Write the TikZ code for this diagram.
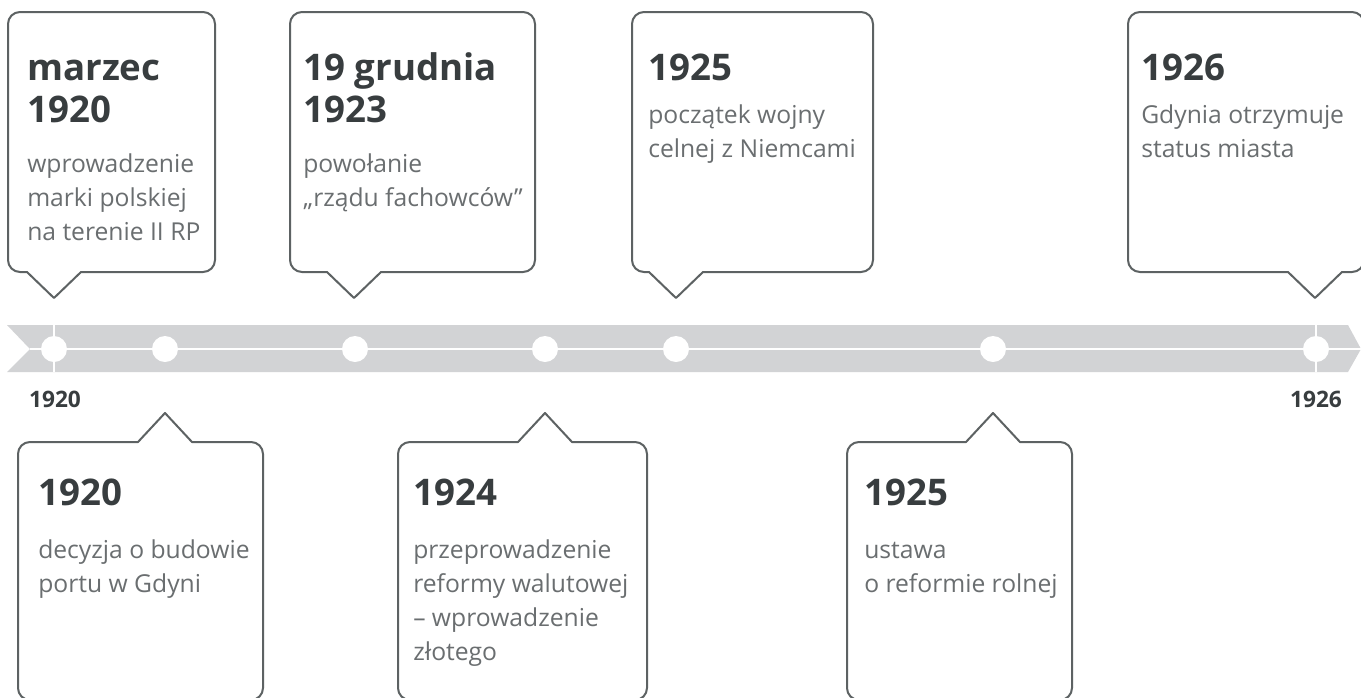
\documentclass[tikz,border=0pt]{standalone}
\usepackage{fontspec}
\setmainfont{Open Sans}
\usepackage{xcolor}
\usepackage{tikz}
\usetikzlibrary{positioning}
\definecolor{boxline}{HTML}{5D6263}
\definecolor{headtext}{HTML}{383D3F}
\definecolor{bodytext}{HTML}{6A6E70}
\definecolor{bargray}{HTML}{D2D3D5}

\begin{document}
\begin{tikzpicture}[x=0.75pt, y=-0.75pt,
  callout/.style={draw=boxline, line width=1.5pt, line join=round},
  head/.style={anchor=base west, inner sep=0, align=left, text=headtext, font=\fontsize{27.5}{31.5}\selectfont\bfseries},
  body/.style={anchor=base west, inner sep=0, align=left, text=bodytext, font=\fontsize{18.5}{25.5}\selectfont},
  dot/.style={circle, fill=white, inner sep=0, minimum size=19.5pt},
  year/.style={anchor=base, inner sep=0, text=headtext, font=\fontsize{17}{20}\selectfont\bfseries}]
\useasboundingbox (0,0) rectangle (1361,697);
\clip (0,0) rectangle (1361,697);
\fill[white] (0,0) rectangle (1361,697);

\fill[bargray] (7,325) -- (1348,325) -- (1361,349) -- (1348,372) -- (7,372) -- (30,349) -- cycle;
\draw[white, line width=2.2pt] (30,349) -- (1361,349);
\draw[white, line width=2.2pt] (54,325) -- (54,372);
\draw[white, line width=2.2pt] (1316,325) -- (1316,372);

\node(d1)[dot] at (54,349) {};
\node(d2)[dot] at (165,349) {};
\node(d3)[dot] at (355,349) {};
\node(d4)[dot] at (545,349) {};
\node(d5)[dot] at (676,349) {};
\node(d6)[dot] at (993,349) {};
\node(d7)[dot] at (1316,349) {};

\node(y1920)[year] at (55,407) {1920};
\node(y1926)[year] at (1316,407) {1926};

% upper callouts
\draw[callout] (110,12) [rounded corners=9pt] -- (215,12) -- (215,272) [sharp corners] -- (81,272) -- (54,298) -- (27,272) [rounded corners=9pt] -- (8,272) -- (8,12) -- cycle;
\draw[callout] (410,12) [rounded corners=9pt] -- (535,12) -- (535,272) [sharp corners] -- (381,272) -- (354,298) -- (327,272) [rounded corners=9pt] -- (290,272) -- (290,12) -- cycle;
\draw[callout] (750,12) [rounded corners=9pt] -- (873,12) -- (873,272) [sharp corners] -- (703,272) -- (676,298) -- (649,272) [rounded corners=9pt] -- (632,272) -- (632,12) -- cycle;
\draw[callout] (1250,12) [rounded corners=9pt] -- (1364,12) -- (1364,272) [sharp corners] -- (1342,272) -- (1315,298) -- (1288,272) [rounded corners=9pt] -- (1128,272) -- (1128,12) -- cycle;

% lower callouts
\draw[callout] (18,700) [rounded corners=9pt] -- (18,442) [sharp corners] -- (138,442) -- (165,413) -- (192,442) [rounded corners=9pt] -- (263,442) -- (263,700) -- cycle;
\draw[callout] (398,700) [rounded corners=9pt] -- (398,442) [sharp corners] -- (518,442) -- (545,413) -- (572,442) [rounded corners=9pt] -- (647,442) -- (647,700) -- cycle;
\draw[callout] (847,700) [rounded corners=9pt] -- (847,442) [sharp corners] -- (966,442) -- (993,413) -- (1020,442) [rounded corners=9pt] -- (1072,442) -- (1072,700) -- cycle;

\node(h1)[head] at (27,122) {marzec\\1920};
\node(t1)[body] at (27,240) {wprowadzenie\\marki polskiej\\na terenie II RP};
\node(h2)[head] at (303,122) {19 grudnia\\1923};
\node(t2)[body] at (303,206) {powołanie\\„rządu fachowców”};
\node(h3)[head] at (648,80) {1925};
\node(t3)[body] at (648,157) {początek wojny\\celnej z Niemcami};
\node(h4)[head] at (1141,80) {1926};
\node(t4)[body] at (1141,157) {Gdynia otrzymuje\\status miasta};

\node(h5)[head] at (38,505) {1920};
\node(t5)[body] at (38,592) {decyzja o budowie\\portu w Gdyni};
\node(h6)[head] at (413,505) {1924};
\node(t6)[body] at (413,660) {przeprowadzenie\\reformy walutowej\\– wprowadzenie\\złotego};
\node(h7)[head] at (864,505) {1925};
\node(t7)[body] at (864,592) {ustawa\\o reformie rolnej};
\end{tikzpicture}
\end{document}
